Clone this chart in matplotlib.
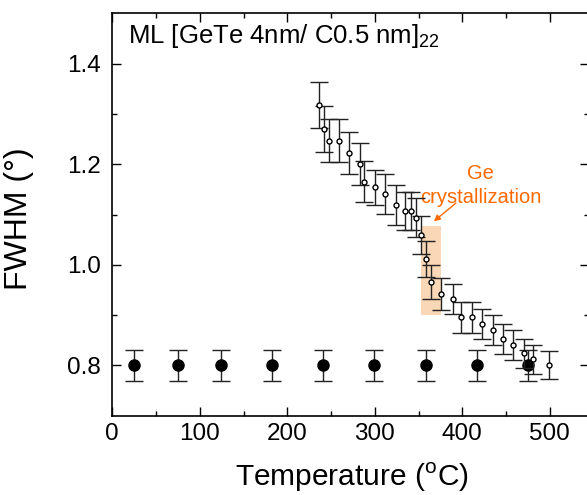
import matplotlib.pyplot as plt
import numpy as np

plt.rcParams["font.family"] = ["Liberation Sans", "DejaVu Sans"]

# as-deposited / reference series (filled)
temp_ref = [25, 75, 124, 183, 241, 299, 358, 417, 475]
fwhm_ref = [0.80, 0.80, 0.80, 0.80, 0.80, 0.80, 0.80, 0.80, 0.80]
err_ref = [0.031, 0.031, 0.031, 0.031, 0.031, 0.031, 0.031, 0.031, 0.031]

# in-situ annealing series (open)
temp_ann = [236, 242, 248, 259, 271, 283, 288, 300, 312, 324, 335, 341, 347,
            353, 359, 364, 376, 389, 399, 411, 423, 435, 447, 458, 470, 481, 499]
fwhm_ann = [1.317, 1.270, 1.247, 1.247, 1.223, 1.201, 1.165, 1.154, 1.141,
            1.119, 1.107, 1.107, 1.094, 1.059, 1.012, 0.966, 0.942, 0.932,
            0.896, 0.896, 0.883, 0.871, 0.853, 0.841, 0.824, 0.812, 0.801]
err_ann = [0.046, 0.045, 0.043, 0.043, 0.042, 0.042, 0.041, 0.035, 0.039,
           0.039, 0.038, 0.038, 0.039, 0.038, 0.036, 0.033, 0.032, 0.030,
           0.031, 0.031, 0.030, 0.030, 0.030, 0.030, 0.029, 0.029, 0.028]

# Ge crystallization window
cryst_t = (353, 376)
cryst_f = (0.901, 1.078)

orange = "#FF6A00"

fig = plt.figure(figsize=(5.87, 4.95), dpi=100)
ax = fig.add_axes([0.1913, 0.1602, 0.8125, 0.8129])

ax.fill_between(cryst_t, cryst_f[0], cryst_f[1], color="#FAD3AE",
                alpha=0.9, linewidth=0, zorder=0)

ax.errorbar(temp_ref, fwhm_ref, yerr=err_ref, fmt="o", ms=8,
            mfc="black", mec="black", ecolor="#222222", elinewidth=1.0,
            capsize=6.5, capthick=1.0, zorder=3)
ax.errorbar(temp_ann, fwhm_ann, yerr=err_ann, fmt="o", ms=3.6,
            mfc="white", mec="black", mew=1.0, ecolor="#222222",
            elinewidth=1.0, capsize=6.5, capthick=1.0, zorder=4)

ax.annotate("", xy=(365, 1.083), xytext=(395, 1.126),
            arrowprops=dict(arrowstyle="-|>", color=orange, lw=1.0,
                            mutation_scale=9))
ax.text(421, 1.158, "Ge\ncrystallization", color=orange, fontsize=14.5,
        ha="center", va="center", linespacing=1.3)

ax.text(0.032, 0.944, r"ML [GeTe 4nm/ C0.5 nm]$_{\mathregular{22}}$",
        transform=ax.transAxes, fontsize=18.5, ha="left", va="center")

ax.set_xlim(0, 545)
ax.set_ylim(0.7, 1.5)
ax.set_xticks(np.arange(0, 501, 100))
ax.set_xticks(np.arange(50, 501, 100), minor=True)
ax.set_yticks([0.8, 1.0, 1.2, 1.4])
ax.set_yticks([0.9, 1.1, 1.3], minor=True)
ax.tick_params(which="both", direction="in", top=True, right=True,
               labelsize=17.5, width=1.0)
ax.tick_params(which="major", length=6.5)
ax.tick_params(which="minor", length=3.5)
ax.tick_params(axis="x", which="major", pad=5)
ax.tick_params(axis="y", which="major", pad=8)
for spine in ax.spines.values():
    spine.set_linewidth(1.2)

ax.set_xlabel(r"Temperature ($^{\mathregular{o}}$C)", fontsize=21.5)
ax.set_ylabel("FWHM (°)", fontsize=23)
ax.xaxis.set_label_coords(0.503, -0.112)
ax.yaxis.set_label_coords(-0.164, 0.49)

fig.savefig("out.png", dpi=100)
